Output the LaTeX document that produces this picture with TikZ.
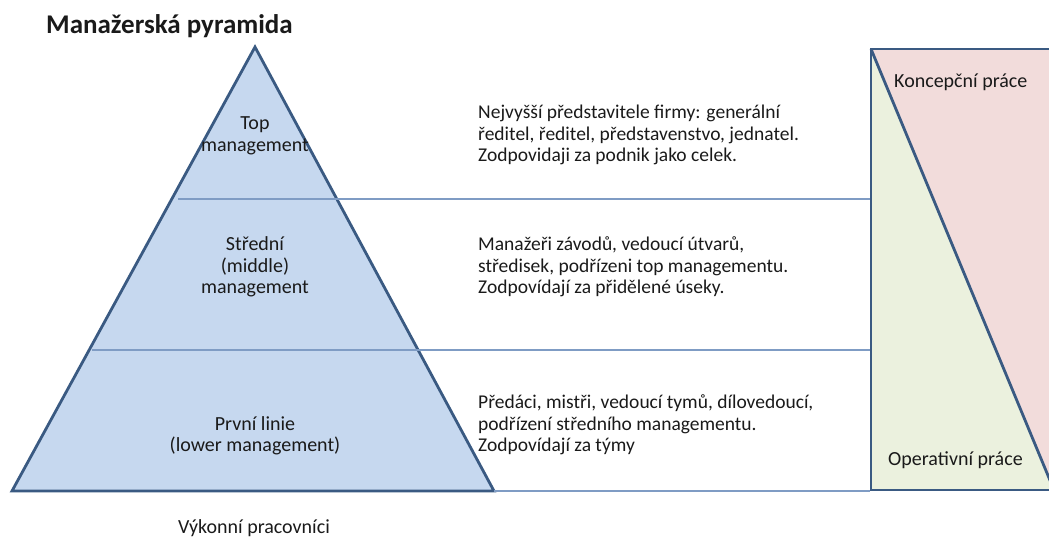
\documentclass[tikz,border=0pt]{standalone}
\usepackage{fontspec}
\setmainfont{Carlito}
\definecolor{pyrfill}{HTML}{C6D8EF}
\definecolor{edgec}{HTML}{3A5A82}
\definecolor{linec}{HTML}{7F9CC4}
\definecolor{pinkc}{HTML}{F2DCDB}
\definecolor{greenc}{HTML}{EBF1DE}
\definecolor{textc}{HTML}{1A1A1A}
\begin{document}
\begin{tikzpicture}[x=1pt,y=-1pt,
  desc/.style={font=\fontsize{19.5}{21.5}\selectfont, text=textc, align=left, anchor=west, inner sep=0pt},
  lbl/.style={font=\fontsize{20}{21.5}\selectfont, text=textc, align=center, inner sep=0pt},
  side/.style={font=\fontsize{20}{22}\selectfont, text=textc, anchor=west, inner sep=0pt},
  rulel/.style={draw=linec, line width=1.3pt},
  edge/.style={draw=edgec, line width=2.8pt, line join=miter}]
\useasboundingbox (0,0) rectangle (1049,545);
\clip (0,0) rectangle (1049,545);

% title
\node[font=\fontsize{27}{30}\selectfont\bfseries, text=textc, anchor=west, inner sep=0pt] (title) at (46,26) {Manažerská pyramida};

% pyramid
\coordinate (apex) at (255,47);
\coordinate (bl) at (12,491);
\coordinate (br) at (494,491);
\filldraw[fill=pyrfill, edge] (apex) -- (br) -- (bl) -- cycle;

% right panel
\coordinate (rtl) at (871,49);
\coordinate (rtr) at (1062,49);
\coordinate (rbl) at (871,490);
\coordinate (rbr) at (1062,490);
\coordinate (dend) at (1054,490);
\fill[pinkc] (rtl) rectangle (rbr);
\fill[greenc] (rtl) -- (dend) -- (rbl) -- cycle;
\draw[edge] (rtr) -- (rtl) -- (rbl) -- (rbr);
\draw[edge] (rtl) -- (dend);

% horizontal rules
\coordinate (h1l) at (178,199);
\coordinate (h1r) at (870,199);
\coordinate (h2l) at (92,350);
\coordinate (h2r) at (870,350);
\coordinate (h3r) at (870,491);
\draw[rulel] (h1l) -- (h1r);
\draw[rulel] (h2l) -- (h2r);
\draw[rulel] (br) -- (h3r);

% pyramid labels
\node[lbl] (top) at (255,136) {Top\\management};
\node[lbl] (mid) at (255,267) {Střední\\(middle)\\management};
\node[lbl] (low) at (255,436) {První linie\\(lower management)};
\node[lbl] (work) at (254,528) {Výkonní pracovníci};

% descriptions
\node[desc] (d1) at (478,135) {Nejvyšší představitele firmy: generální\\ředitel, ředitel, představenstvo, jednatel.\\Zodpovidaji za podnik jako celek.};
\node[desc] (d2) at (478,267) {Manažeři závodů, vedoucí útvarů,\\středisek, podřízeni top managementu.\\Zodpovídají za přidělené úseky.};
\node[desc] (d3) at (478,425) {Předáci, mistři, vedoucí tymů, dílovedoucí,\\podřízení středního managementu.\\Zodpovídají za týmy};

% right panel labels
\node[side] (konc) at (894,82) {Koncepční práce};
\node[side] (oper) at (888,460) {Operativní práce};
\end{tikzpicture}
\end{document}
